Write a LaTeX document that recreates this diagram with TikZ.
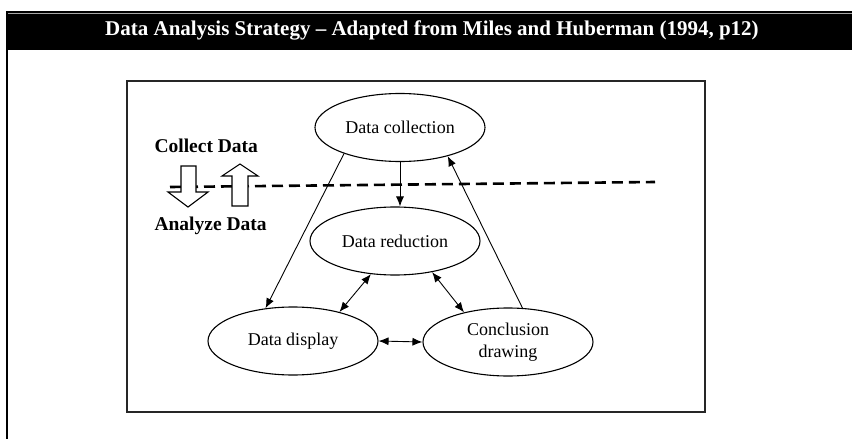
\documentclass[tikz,border=0pt]{standalone}
\usepackage{fontspec}
\setmainfont{Liberation Serif}
\usetikzlibrary{shapes.geometric,arrows.meta}

\begin{document}
\begin{tikzpicture}[x=1pt,y=-1pt,
  stage/.style={draw,ellipse,line width=1.1pt,minimum width=170pt,
    minimum height=68pt,inner sep=0pt,align=center,
    font=\fontsize{18}{21.5}\selectfont},
  flow/.style={-{Latex[length=10pt,width=8pt]},line width=0.9pt},
  both/.style={{Latex[length=10pt,width=8pt]}-{Latex[length=10pt,width=8pt]},line width=0.9pt},
  side/.style={anchor=west,font=\fontsize{19.5}{22}\selectfont\bfseries},
  hollow/.style={draw,fill=white,line width=1.1pt,line join=miter}]
  \useasboundingbox (0,0) rectangle (852,439);
  % heading bar and frame
  \fill (6,11) rectangle (852,50);
  \draw[gray!70,line width=1pt] (8,13.5) -- (852,13.5);
  \node[text=white,font=\fontsize{21}{25}\selectfont\bfseries] (title) at (432,30)
    {Data Analysis Strategy – Adapted from Miles and Huberman (1994, p12)};
  \draw[line width=2pt] (7,50) -- (7,439);
  \draw[line width=2pt,black!85] (127,81) rectangle (705,412);
  % collect / analyze divider
  \coordinate (cutl) at (170,187);
  \coordinate (cutr) at (655,182);
  \draw[line width=2.6pt,dash pattern=on 11pt off 6pt] (cutl) -- (cutr);
  \filldraw[hollow] (181,166) -- (196,166) -- (196,192) -- (208,192) -- (188,207)
    -- (168,192) -- (181,192) -- cycle;
  \filldraw[hollow] (232,206) -- (248,206) -- (248,176) -- (258,176) -- (240,164)
    -- (222,176) -- (232,176) -- cycle;
  \node[side] (collect) at (151,146) {Collect Data};
  \node[side] (analyze) at (151,226) {Analyze Data};
  % the four stages
  \node[stage] (coll)  at (400,127.5) {Data collection};
  \node[stage] (red)   at (395,241)   {Data reduction};
  \node[stage] (disp)  at (293,341)   {Data display};
  \node[stage] (concl) at (508,342)   {Conclusion\\drawing};
  \draw[flow] (coll.south) -- (coll.south |- red.north);
  \draw[flow] (coll.205) -- (disp.130);
  \draw[flow] (concl.67) -- (coll.329);
  \draw[both] (red.234) -- (disp.32);
  \draw[both] (red.320) -- (concl.146);
  \draw[both] (disp.east) -- (concl.west);
\end{tikzpicture}
\end{document}
